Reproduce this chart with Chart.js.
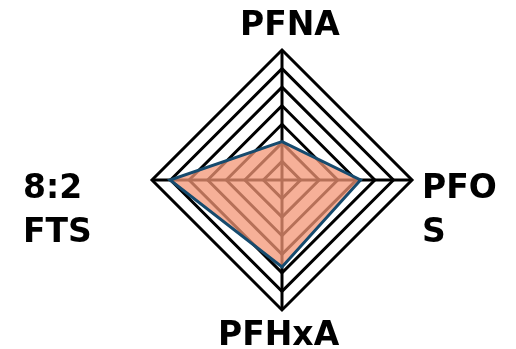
<!DOCTYPE html>
<html>
<head>
<meta charset="utf-8">
<script src="https://cdn.jsdelivr.net/npm/chart.js@4/dist/chart.umd.min.js"></script>
<style>
  html, body { margin: 0; padding: 0; background: #fff; }
  #wrap { width: 516px; height: 349px; position: relative; }
</style>
</head>
<body>
<div id="wrap"><canvas id="radar"></canvas></div>
<script>
// datos
const categories = ['PFNA', 'PFOS', 'PFHxA', '8:2 FTS'];
const labelLines = [['PFNA'], ['PFO', 'S'], ['PFHxA'], ['8:2', 'FTS']];
const values     = [2.07, 4.23, 4.68, 6.03];
const ringTicks  = [0, 1, 2, 3, 4, 5, 6, 7];

// desplazamiento de cada etiqueta respecto a la punta del eje
const labelShift = [[-42, -15], [10, 18], [-64, 35], [-129, 18]];

const cornerLabels = {
    id: 'cornerLabels',
    afterDraw(chart) {
        const r = chart.scales.r;
        const ctx = chart.ctx;
        ctx.save();
        ctx.font = 'bold 33px "DejaVu Sans", Verdana, sans-serif';
        ctx.fillStyle = '#000';
        ctx.textAlign = 'left';
        ctx.textBaseline = 'alphabetic';
        labelLines.forEach((lines, i) => {
            const tip = r.getPointPosition(i, r.drawingArea);
            const [dx, dy] = labelShift[i];
            lines.forEach((txt, k) => ctx.fillText(txt, tip.x + dx, tip.y + dy + k * 44));
        });
        ctx.restore();
    }
};

new Chart(document.getElementById('radar').getContext('2d'), {
    type: 'radar',
    data: {
        labels: categories,
        datasets: [{
            data: values,
            backgroundColor: 'rgba(243,150,118,0.75)',
            borderColor: '#164b6e',
            borderWidth: 3,
            pointRadius: 0,
            pointHoverRadius: 0
        }]
    },
    options: {
        responsive: true, maintainAspectRatio: false, animation: false,
        layout: { padding: { left: 152, right: 104, top: 50, bottom: 39 } },
        plugins: { legend: { display: false }, tooltip: { enabled: false } },
        scales: {
            r: {
                min: ringTicks[0], max: ringTicks[ringTicks.length - 1],
                ticks: { display: false, stepSize: 1 },
                grid: { color: '#000', lineWidth: 3 },
                angleLines: { color: '#000', lineWidth: 3 },
                pointLabels: { display: false }
            }
        }
    },
    plugins: [cornerLabels]
});
</script>
</body>
</html>
